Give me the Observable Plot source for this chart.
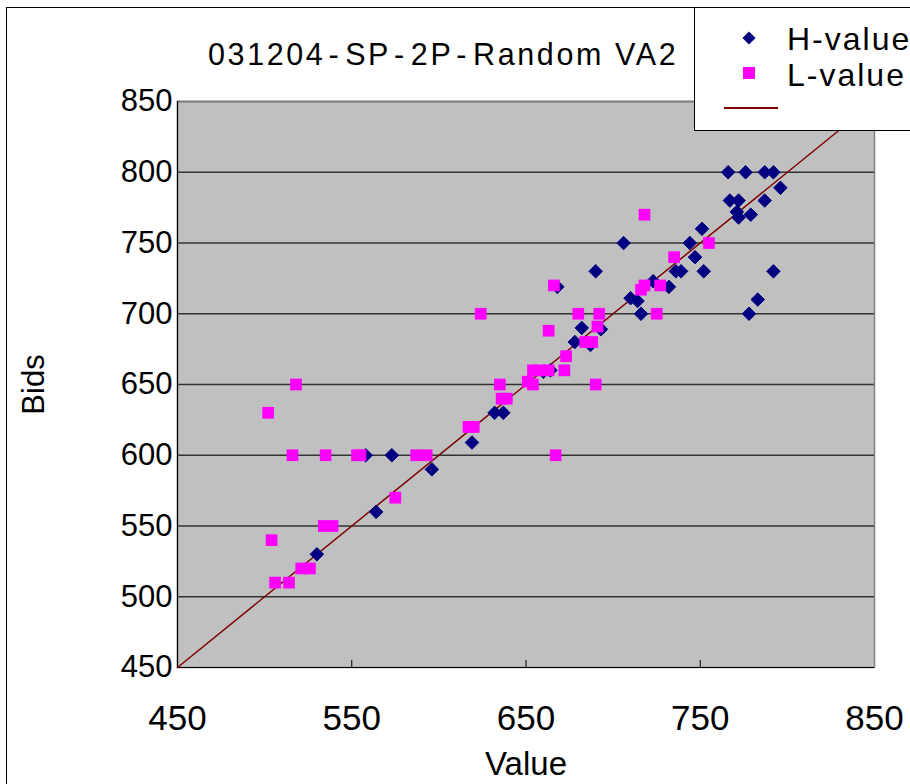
<!DOCTYPE html>
<html><head><meta charset="utf-8">
<script src="https://cdn.jsdelivr.net/npm/d3@7"></script>
<script src="https://cdn.jsdelivr.net/npm/@observablehq/plot@0.6"></script>
<style>
body{margin:0;background:#fff;font-family:"Liberation Sans",Arial,sans-serif;}
#wrap{position:relative;width:910px;height:784px;overflow:hidden;}
#chartborder{position:absolute;left:6px;top:7px;width:1000px;height:1000px;border-left:1.5px solid #000;border-top:1.5px solid #000;}
#plot{position:absolute;left:0;top:0;}
#title{position:absolute;top:37px;left:208px;font-size:30.5px;letter-spacing:2.6px;color:#000;white-space:nowrap;}
#title .hy{padding:0 4px 0 3px;}
#legend{position:absolute;left:694px;top:7px;width:240px;height:122px;background:#fff;border:1.5px solid #000;}
</style></head>
<body>
<div id="wrap">
  <div id="chartborder"></div>
  <div id="plot"></div>
  <div id="title"></div>
  <div id="legend"></div>
</div>
<script>
const chartTitle = "031204-SP-2P-Random VA2";
const xLabel = "Value";
const yLabel = "Bids";
const seriesNames = ["H-value", "L-value"];
const seriesColors = ["#000080", "#ff00ff"];
const refColor = "#800000";

const xTicks = [450, 550, 650, 750, 850];
const xMinorTicks = [550, 650, 750];
const yTicks = [450, 500, 550, 600, 650, 700, 750, 800, 850];
const gridY = [500, 550, 600, 650, 700, 750, 800, 850];
const refLine = [450, 850];

const hValue = [530,564,558,573,596,619,632,637,660,664,668,678,682,687,690,693,706,710,714,716,723,732,736,739,744,747,751,752,766,776,787,792,796,767,772,787,771,772,779,792,783,778];
const hBid   = [530,560,600,600,590,609,630,630,659,660,719,680,690,678,730,689,750,711,709,700,723,719,730,730,750,740,760,730,800,800,800,800,789,780,780,780,772,768,770,730,710,700];

const lValue = [502,504,506,514,516,518,521,526,534,539,535,553,555,575,587,593,617,620,624,635,636,639,651,654,654,658,663,663,666,667,672,673,680,684,688,690,691,692,716,718,718,725,727,735,755];
const lBid   = [630,540,510,510,600,650,520,520,550,550,600,600,600,570,600,600,620,620,700,650,640,640,652,650,660,660,660,688,720,600,660,670,700,680,680,650,691,700,717,720,770,700,720,740,750];

const H = hValue.map((v, i) => ({value: v, bid: hBid[i]}));
const L = lValue.map((v, i) => ({value: v, bid: lBid[i]}));

const chart = Plot.plot({
  width: 910, height: 784,
  marginLeft: 177, marginRight: 36, marginTop: 101, marginBottom: 117,
  x: {domain: [450, 850]},
  y: {domain: [450, 850]},
  style: {fontFamily: '"Liberation Sans", Arial, sans-serif', background: "transparent", color: "#000"},
  marks: [
    Plot.frame({fill: "#c0c0c0"}),
    Plot.ruleY(gridY, {stroke: "#333", strokeWidth: 1.5}),
    Plot.frame({stroke: "#808080", strokeWidth: 1.5}),
    Plot.ruleX([450], {stroke: "#000", strokeWidth: 1.2}),
    Plot.ruleY([450], {stroke: "#000", strokeWidth: 1.2}),
    Plot.ruleX(xMinorTicks, {y1: 450, y2: 455, stroke: "#000"}),
    Plot.line(refLine, {x: d => d, y: d => d, stroke: refColor, strokeWidth: 1.5}),
    Plot.dot(H, {x: "value", y: "bid", symbol: "diamond2", r: 6.1, fill: seriesColors[0], stroke: seriesColors[0], strokeWidth: 1}),
    Plot.dot(L, {x: "value", y: "bid", symbol: "square", r: 6.6, fill: seriesColors[1], stroke: "none"}),
    Plot.axisY({ticks: yTicks, tickSize: 0, tickPadding: 5, fontSize: 31, label: null, tickFormat: d => String(d)}),
    Plot.axisX({ticks: xTicks, tickSize: 0, tickPadding: 38, fontSize: 35, label: null, tickFormat: d => String(d)}),
    Plot.text([yLabel], {text: d => d, frameAnchor: "left", textAnchor: "middle", lineAnchor: "middle", dx: -143, rotate: -90, fontSize: 31}),
    Plot.text([xLabel], {text: d => d, frameAnchor: "bottom", textAnchor: "middle", lineAnchor: "middle", dy: 97, fontSize: 33})
  ]
});
document.getElementById("plot").appendChild(chart);

// title: same text, with a little extra room around each hyphen
const titleEl = document.getElementById("title");
chartTitle.split(/(-)/).forEach(part => {
  const s = document.createElement("span");
  s.textContent = part;
  if (part === "-") s.className = "hy";
  titleEl.appendChild(s);
});

// legend
const lg = d3.select("#legend").append("svg").attr("width", 240).attr("height", 122)
  .style("font-family", '"Liberation Sans", Arial, sans-serif');
const sym0 = d3.symbol(d3.symbolDiamond2, 110);
lg.append("path").attr("d", sym0()).attr("transform", "translate(54,30)").attr("fill", seriesColors[0]);
lg.append("rect").attr("x", 48).attr("y", 59).attr("width", 12).attr("height", 12).attr("fill", seriesColors[1]);
lg.append("line").attr("x1", 29).attr("x2", 83).attr("y1", 100).attr("y2", 100).attr("stroke", refColor).attr("stroke-width", 2);
seriesNames.forEach((n, i) => {
  lg.append("text").attr("x", 92).attr("y", 42 + i * 36).attr("font-size", 32).attr("letter-spacing", 2).text(n);
});
</script>
</body></html>
